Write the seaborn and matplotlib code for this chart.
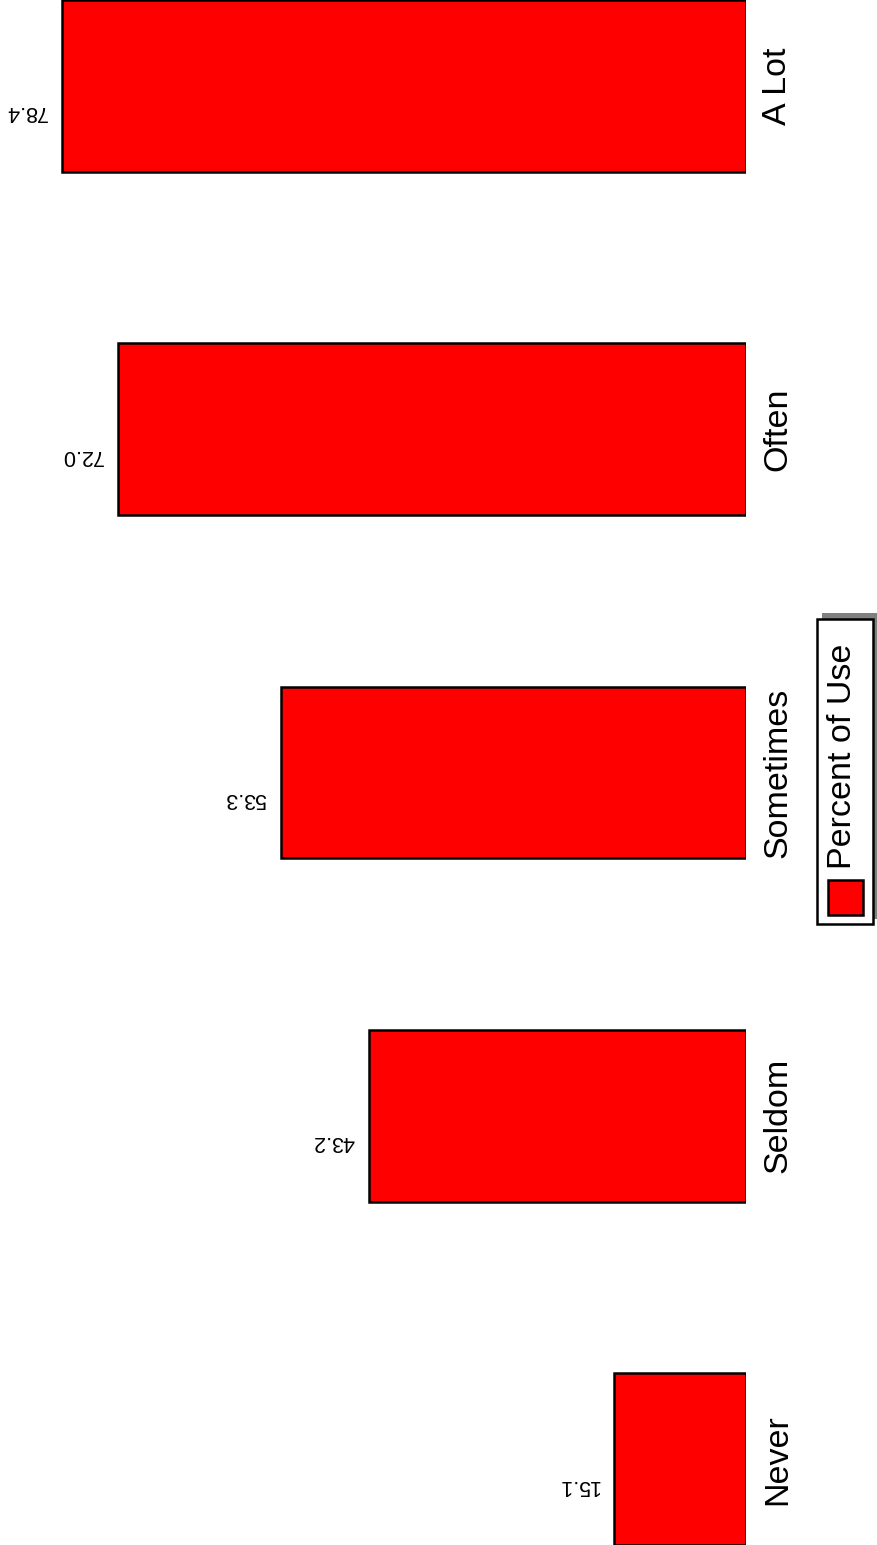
import matplotlib
matplotlib.use('Agg')
import pandas as pd
import seaborn as sns
import matplotlib.pyplot as plt
from matplotlib.patches import Rectangle
from matplotlib.transforms import Affine2D

# data
categories = ['A Lot', 'Often', 'Sometimes', 'Seldom', 'Never']
percent_of_use = [78.4, 72.0, 53.3, 43.2, 15.1]
legend_label = 'Percent of Use'

df = pd.DataFrame({'Frequency': categories, 'Percent': percent_of_use})

sns.set_style('white')
plt.rcParams['font.family'] = ['Liberation Sans', 'DejaVu Sans']
plt.rcParams['text.color'] = 'black'
plt.rcParams['ytick.color'] = 'black'
plt.rcParams['ytick.labelcolor'] = 'black'

W, H = 878, 1545
fig = plt.figure(figsize=(W / 100, H / 100), dpi=100)
ax = fig.add_axes([0, 0, 746 / W, 1])

sns.barplot(data=df, x='Percent', y='Frequency', order=categories, orient='h',
            color='red', saturation=1, width=0.5, errorbar=None,
            edgecolor='black', linewidth=1.8, ax=ax)

# bars grow to the left
ax.set_xlim(85.55, 0)
ax.set_ylim(4.25, -0.25)
ax.set_xticks([])
ax.set_xlabel('')
ax.set_ylabel('')
for s in ax.spines.values():
    s.set_visible(False)

# category labels on the right, rotated
ax.yaxis.tick_right()
ax.tick_params(axis='y', length=0, pad=11.5, labelsize=24.5, labelrotation=90,
               labelcolor='black')
for lab in ax.get_yticklabels():
    lab.set_va('center')

# value labels, upside down
for i, v in enumerate(percent_of_use):
    ax.annotate(f'{v:.1f}', xy=(v, i), xytext=(-15 * 0.72, -26 * 0.72),
                textcoords='offset points', rotation=180,
                ha='right', va='center', fontsize=15.5, color='black')

# rotated legend drawn by hand (pixel coords, origin top-left)
px = Affine2D().scale(1 / W, -1 / H).translate(0, 1) + fig.transFigure
fig.patches.append(Rectangle((822, 613), 60, 306, facecolor='#808080',
                             edgecolor='none', transform=px, figure=fig))
fig.patches.append(Rectangle((817, 619), 56, 305, facecolor='white',
                             edgecolor='black', linewidth=1.8, transform=px, figure=fig))
fig.patches.append(Rectangle((828, 880), 35, 35, facecolor='red',
                             edgecolor='black', linewidth=1.8, transform=px, figure=fig))
fig.text(843, 756, legend_label, transform=px, rotation=90, ha='center',
         va='center', fontsize=24.5, color='black')

fig.savefig('out.png', dpi=100)
